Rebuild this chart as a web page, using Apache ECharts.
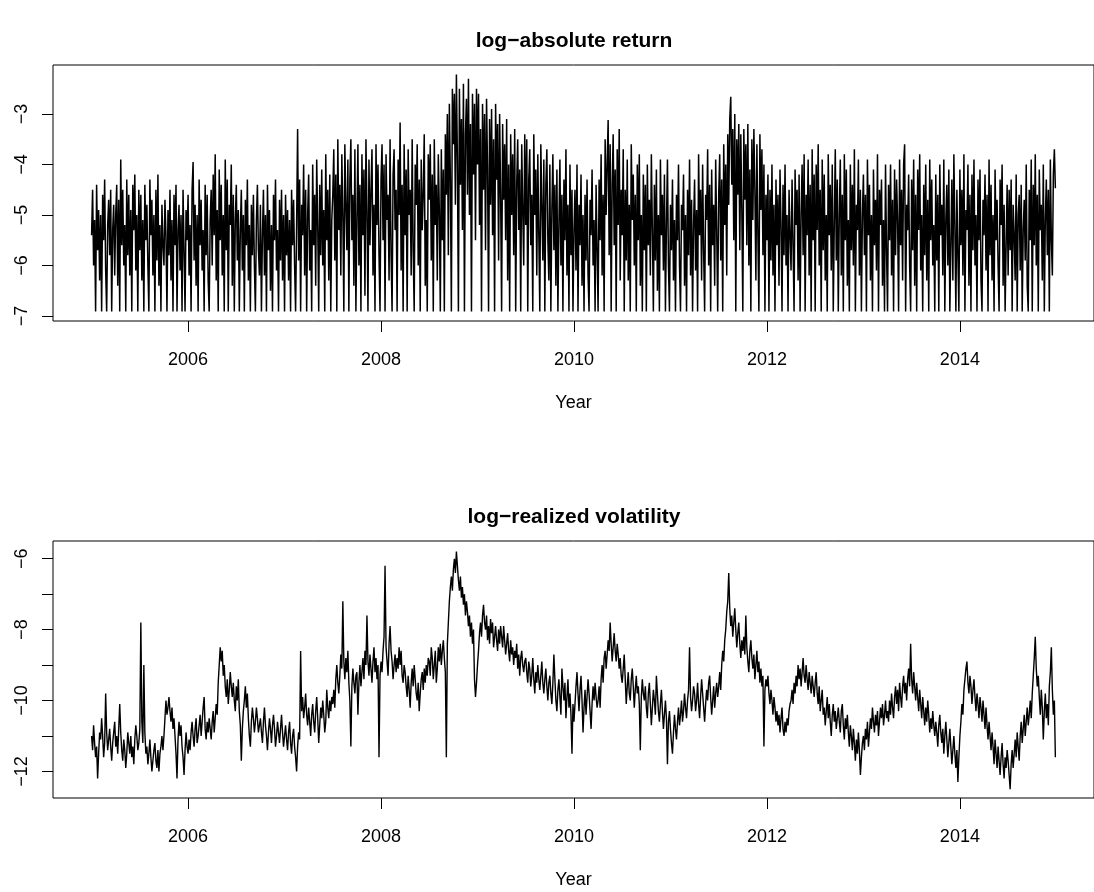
<!DOCTYPE html>
<html>
<head>
<meta charset="utf-8">
<title>log-absolute return / log-realized volatility</title>
<script src="https://cdn.jsdelivr.net/npm/echarts@6/dist/echarts.min.js"></script>
<style>
  html, body { margin: 0; padding: 0; background: #fff; }
  #main { width: 1094px; height: 892px; }
</style>
</head>
<body>
<div id="main"></div>
<script>
// both series read at 96 points a year, starting 2005.0
var startYear = 2005;
var freq = 96;

var yearTicks = [2006, 2008, 2010, 2012, 2014];
var absTicks = [-7, -6, -5, -4, -3];
var volTicks = [-12, -11, -10, -9, -8, -7, -6];
var volLabels = [-12, -10, -8, -6];

// log-absolute return, one line per quarter
var logAbsReturn = [
  -5.4,-4.5,-6.0,-5.1,-6.91,-4.4,-5.7,-4.9,-6.3,-5.0,-6.91,-4.6,-5.5,-4.3,-6.1,-6.91,-5.2,-4.7,-5.8,-4.5,-6.91,-5.3,-4.8,-6.2,
  -5.0,-4.4,-6.4,-4.7,-6.91,-3.9,-5.6,-4.5,-6.0,-5.2,-6.91,-4.3,-5.8,-4.6,-6.2,-4.9,-6.91,-4.4,-5.3,-4.2,-6.1,-5.0,-6.91,-4.5,
  -5.7,-4.6,-6.3,-5.1,-6.91,-4.4,-5.5,-4.8,-6.0,-6.91,-4.3,-5.4,-4.7,-6.2,-5.0,-6.91,-4.5,-5.9,-4.2,-6.4,-5.2,-6.91,-4.8,-5.6,
  -6.0,-4.7,-5.4,-6.91,-4.9,-5.8,-4.5,-6.3,-5.1,-6.91,-4.6,-5.6,-4.4,-6.91,-5.3,-4.8,-6.1,-5.0,-6.91,-4.5,-5.7,-6.91,-4.9,-5.5,
  // 2006
  -4.6,-6.2,-5.2,-6.91,-4.5,-3.95,-5.9,-4.8,-6.4,-5.0,-6.91,-4.3,-5.6,-4.7,-6.1,-5.3,-6.91,-4.4,-5.8,-4.6,-6.3,-6.91,-5.1,-4.5,
  -6.0,-4.2,-5.4,-3.8,-6.3,-4.9,-6.91,-4.1,-5.5,-4.4,-6.2,-5.0,-6.91,-3.9,-5.7,-4.3,-6.91,-4.8,-5.2,-4.0,-6.4,-4.6,-6.91,-5.1,
  -4.4,-5.9,-4.9,-6.91,-5.3,-4.5,-6.1,-5.0,-6.91,-4.7,-5.6,-4.3,-6.3,-5.2,-6.91,-4.8,-5.8,-4.6,-6.0,-6.91,-5.1,-4.4,-5.7,-6.2,
  -4.8,-6.91,-5.4,-4.5,-6.2,-5.0,-6.91,-4.4,-5.7,-4.9,-6.5,-5.2,-6.91,-4.6,-5.5,-4.3,-6.1,-5.3,-6.91,-4.7,-5.9,-4.5,-6.3,-5.0,
  // 2007
  -6.91,-4.6,-5.8,-4.9,-6.3,-5.1,-6.91,-4.5,-5.6,-4.7,-6.0,-6.91,-5.2,-3.3,-5.9,-4.3,-6.91,-4.8,-5.4,-4.0,-6.2,-4.5,-6.91,-5.0,
  -4.2,-6.1,-5.3,-6.91,-4.0,-5.6,-4.6,-6.4,-3.9,-5.2,-6.91,-4.4,-5.8,-4.1,-6.0,-4.9,-6.91,-3.8,-5.5,-4.5,-6.3,-4.2,-6.91,-5.1,
  -4.6,-3.7,-5.9,-4.2,-6.91,-3.5,-5.3,-4.4,-6.2,-3.8,-5.0,-6.91,-3.6,-4.8,-5.7,-3.9,-6.91,-4.3,-3.5,-5.5,-4.6,-6.4,-3.7,-6.91,
  -5.1,-3.6,-6.0,-4.4,-6.91,-3.8,-5.4,-4.1,-6.6,-3.5,-4.9,-6.91,-3.9,-5.6,-4.5,-3.7,-6.2,-4.8,-6.91,-3.6,-5.2,-4.0,-5.8,-6.91,
  // 2008
  -4.3,-3.6,-5.5,-4.0,-6.91,-3.8,-5.1,-4.6,-6.3,-3.5,-5.8,-6.91,-4.2,-3.7,-5.3,-4.5,-6.91,-3.9,-5.0,-3.17,-6.1,-4.4,-6.91,-3.6,
  -5.4,-4.1,-6.91,-3.7,-5.0,-4.5,-6.2,-3.5,-5.7,-6.91,-4.0,-4.8,-3.6,-6.0,-4.3,-6.91,-3.9,-5.3,-4.6,-3.4,-6.4,-5.1,-6.91,-3.8,
  -4.7,-3.6,-5.9,-4.2,-6.91,-3.5,-5.2,-4.4,-6.3,-3.8,-4.9,-6.91,-3.7,-5.5,-4.1,-6.91,-3.4,-4.6,-3.0,-5.8,-2.8,-4.3,-6.91,-2.5,
  -3.6,-2.6,-4.8,-2.22,-3.9,-6.91,-2.5,-4.4,-3.1,-5.3,-2.4,-6.91,-3.4,-2.7,-4.6,-2.3,-5.0,-3.2,-6.91,-2.6,-4.2,-2.8,-5.5,-2.5,
  // 2009
  -4.0,-2.6,-5.2,-3.3,-6.91,-2.8,-4.5,-3.0,-5.7,-2.7,-4.1,-6.91,-3.1,-4.8,-2.9,-5.4,-3.5,-6.91,-2.8,-4.3,-3.2,-5.9,-3.0,-4.6,
  -6.91,-3.2,-4.7,-3.6,-5.5,-3.1,-6.3,-4.0,-6.91,-3.4,-5.0,-3.8,-5.8,-3.3,-6.91,-4.4,-3.5,-5.3,-4.1,-6.91,-3.6,-4.9,-6.0,-3.4,
  -5.2,-3.5,-6.91,-4.3,-3.7,-5.6,-4.6,-6.91,-3.4,-5.0,-4.1,-6.2,-3.8,-5.4,-6.91,-3.6,-4.8,-5.9,-3.9,-6.91,-4.4,-3.7,-5.5,-6.3,
  -4.0,-6.91,-4.9,-3.8,-5.7,-4.4,-6.4,-4.1,-6.91,-5.2,-3.9,-6.0,-4.6,-6.91,-4.3,-5.5,-3.7,-6.2,-4.8,-6.91,-4.0,-5.8,-4.5,-6.91,
  // 2010
  -5.3,-4.5,-6.1,-4.0,-6.91,-4.8,-5.6,-4.2,-6.4,-5.0,-6.91,-4.6,-5.9,-4.3,-6.2,-6.91,-4.7,-5.4,-4.1,-6.0,-5.1,-6.91,-4.4,-5.7,
  -6.91,-4.3,-5.5,-3.8,-6.2,-4.6,-6.91,-3.5,-5.0,-4.0,-3.12,-5.8,-3.6,-6.91,-4.4,-3.4,-5.6,-4.1,-6.91,-3.7,-5.2,-3.3,-6.3,-4.5,
  -5.4,-3.7,-6.91,-4.5,-5.9,-3.9,-6.3,-4.8,-6.91,-3.6,-5.1,-4.2,-6.0,-4.6,-6.91,-4.0,-5.5,-3.8,-6.4,-5.0,-6.91,-4.2,-5.7,-4.4,
  -6.91,-4.0,-5.6,-4.7,-6.2,-3.8,-5.3,-6.91,-4.4,-5.9,-4.1,-6.5,-5.0,-6.91,-3.9,-5.4,-4.6,-6.1,-4.2,-6.91,-5.2,-3.9,-6.0,-6.91,
  // 2011
  -4.8,-5.7,-4.3,-6.3,-5.1,-6.91,-4.6,-5.5,-4.0,-6.0,-6.91,-4.8,-5.3,-4.2,-6.4,-5.0,-6.91,-4.5,-5.8,-3.9,-6.2,-4.7,-6.91,-5.2,
  -4.3,-6.1,-4.9,-6.91,-3.8,-5.4,-4.5,-6.3,-4.0,-5.7,-6.91,-4.6,-5.1,-3.7,-6.0,-4.4,-6.91,-4.1,-5.6,-4.8,-6.4,-3.9,-5.3,-6.91,
  -4.6,-3.8,-5.9,-4.3,-6.91,-3.6,-5.2,-4.0,-6.2,-3.4,-4.8,-3.1,-2.66,-4.4,-3.3,-5.5,-3.0,-6.91,-3.5,-4.6,-3.2,-5.7,-3.4,-4.9,
  -6.91,-3.3,-4.7,-3.6,-5.6,-3.2,-6.0,-4.1,-6.91,-3.5,-5.1,-3.3,-4.5,-6.3,-3.6,-5.4,-6.91,-3.4,-4.9,-3.7,-5.8,-4.0,-6.91,-4.6,
  // 2012
  -5.5,-4.2,-6.91,-4.5,-5.9,-4.0,-6.2,-4.8,-6.91,-4.3,-5.6,-4.6,-6.4,-4.1,-5.2,-6.91,-4.4,-5.8,-4.0,-6.0,-5.0,-6.91,-4.5,-5.4,
  -6.1,-4.3,-5.6,-6.91,-4.1,-5.2,-4.5,-6.3,-4.2,-6.91,-5.0,-4.0,-5.8,-3.8,-6.91,-4.6,-5.4,-3.9,-6.2,-4.4,-6.91,-3.7,-5.5,-4.2,
  -6.91,-4.0,-5.3,-3.6,-6.0,-4.5,-6.91,-3.9,-5.7,-4.2,-6.3,-5.0,-6.91,-3.8,-5.4,-4.4,-6.1,-4.0,-6.91,-5.2,-3.7,-5.9,-4.3,-6.91,
  -5.0,-3.9,-6.2,-4.6,-6.91,-3.8,-5.5,-4.1,-6.4,-5.1,-6.91,-4.0,-5.7,-4.4,-6.0,-3.7,-6.91,-4.8,-5.3,-3.9,-6.2,-4.5,-6.91,-5.0,
  // 2013
  -4.2,-5.8,-4.6,-6.91,-3.9,-5.4,-4.4,-6.3,-5.0,-6.91,-4.1,-5.6,-4.7,-6.1,-3.8,-6.91,-4.5,-5.2,-4.3,-6.4,-5.1,-6.91,-4.0,-5.7,
  -6.91,-4.4,-5.5,-4.0,-6.2,-4.7,-6.91,-4.1,-5.8,-4.3,-5.1,-6.91,-3.9,-5.6,-4.5,-6.3,-4.0,-3.6,-6.91,-4.8,-5.3,-4.2,-6.0,-6.91,
  -4.3,-5.7,-3.9,-6.4,-4.6,-6.91,-4.1,-5.3,-3.8,-6.1,-5.0,-6.91,-4.4,-5.8,-4.0,-6.3,-4.7,-6.91,-3.9,-5.5,-4.3,-6.0,-5.2,-6.91,
  -4.2,-5.9,-4.6,-6.91,-4.0,-5.4,-4.8,-6.2,-3.9,-6.91,-5.1,-4.4,-6.0,-4.1,-6.91,-5.6,-4.3,-6.3,-3.8,-5.2,-6.91,-4.5,-5.8,-6.91,
  // 2014
  -4.1,-5.6,-4.5,-6.2,-3.8,-6.91,-4.9,-5.3,-4.0,-6.4,-4.6,-6.91,-4.2,-5.7,-3.9,-6.0,-5.0,-6.91,-4.3,-5.5,-4.1,-6.3,-6.91,-4.7,
  -5.4,-4.2,-6.1,-4.6,-6.91,-3.9,-5.8,-4.4,-6.3,-5.0,-6.91,-4.1,-5.5,-4.7,-6.0,-6.91,-4.3,-5.2,-4.0,-6.4,-4.8,-6.91,-5.6,-4.4,
  -6.2,-4.5,-5.7,-4.3,-6.91,-4.8,-5.4,-6.3,-4.2,-6.91,-5.0,-4.6,-6.1,-4.4,-6.91,-5.3,-4.7,-5.9,-4.0,-6.4,-6.91,-4.5,-5.5,-3.9,
  -6.91,-4.4,-5.6,-3.8,-6.0,-4.6,-6.91,-4.1,-5.3,-4.8,-6.3,-4.0,-6.91,-5.1,-4.3,-5.8,-4.5,-6.91,-3.9,-5.5,-6.2,-4.2,-3.7,-4.47
];

// log-realized volatility, one line per quarter
var logRealVol = [
  -11.0,-11.4,-10.7,-11.2,-11.6,-11.3,-12.2,-11.5,-10.9,-11.1,-10.5,-11.0,-11.6,-11.2,-9.8,-10.9,-11.4,-11.1,-10.8,-11.3,-11.7,-11.2,-10.9,-10.6,
  -11.3,-11.0,-11.5,-10.8,-10.1,-10.9,-11.4,-11.7,-11.1,-11.4,-11.9,-11.5,-10.9,-11.2,-11.5,-11.0,-11.6,-11.3,-11.8,-11.1,-10.7,-11.0,-11.4,-11.2,
  -10.8,-7.8,-10.6,-11.2,-9.0,-10.9,-11.5,-11.3,-11.8,-11.5,-11.1,-11.6,-12.0,-11.7,-11.4,-11.2,-11.7,-11.9,-11.4,-12.0,-11.5,-11.3,-11.0,-11.4,
  -11.0,-10.5,-10.0,-10.4,-10.2,-9.9,-10.3,-10.6,-10.2,-10.8,-10.5,-11.0,-11.5,-12.2,-11.1,-10.6,-11.0,-10.7,-11.3,-11.6,-12.1,-11.4,-10.9,-11.3,
  // 2006
  -11.5,-11.1,-11.4,-10.9,-10.6,-11.0,-11.3,-10.8,-10.5,-11.2,-11.0,-10.7,-10.4,-11.0,-10.6,-10.2,-9.9,-10.8,-11.1,-10.6,-10.9,-10.5,-10.8,-11.1,
  -10.6,-10.3,-10.9,-10.5,-10.1,-10.4,-9.5,-9.0,-8.5,-8.9,-8.6,-9.3,-9.0,-9.6,-9.9,-9.4,-10.1,-9.7,-9.2,-9.6,-9.9,-9.5,-10.0,-10.3,
  -9.6,-10.0,-9.4,-10.3,-10.7,-11.7,-10.8,-10.3,-10.0,-9.6,-10.2,-9.8,-10.5,-11.0,-11.3,-10.6,-10.2,-10.5,-10.9,-10.6,-10.2,-10.5,-10.9,-10.7,
  -10.5,-10.9,-11.2,-10.6,-10.2,-10.7,-11.0,-11.4,-10.9,-10.5,-10.8,-11.2,-10.7,-10.4,-10.8,-11.3,-11.0,-10.6,-10.9,-11.2,-10.8,-10.4,-10.9,-11.3,
  // 2007
  -11.0,-10.7,-11.1,-11.4,-10.9,-10.6,-11.2,-11.5,-11.0,-10.8,-11.3,-11.6,-12.0,-11.3,-10.9,-11.1,-8.6,-10.3,-9.9,-10.5,-10.2,-9.8,-10.4,-10.7,
  -10.2,-10.6,-11.0,-10.4,-10.1,-10.6,-10.9,-10.3,-9.9,-10.5,-11.2,-10.7,-10.2,-10.5,-10.0,-10.4,-10.9,-10.6,-9.7,-10.2,-10.5,-10.0,-10.3,-9.9,
  -10.1,-9.7,-10.2,-9.4,-9.0,-9.5,-9.8,-9.3,-8.7,-9.1,-7.2,-8.9,-9.4,-8.8,-9.2,-8.6,-9.5,-10.0,-11.3,-9.6,-9.1,-9.5,-9.8,-9.3,
  -9.2,-10.4,-9.5,-9.0,-9.6,-9.2,-8.8,-9.4,-8.6,-9.0,-7.6,-8.9,-9.3,-8.7,-9.1,-9.5,-8.9,-8.5,-9.2,-8.8,-9.4,-9.0,-11.6,-9.3,
  // 2008
  -8.9,-9.2,-8.6,-8.2,-6.2,-8.5,-8.9,-9.3,-8.4,-7.9,-8.6,-8.9,-9.4,-9.0,-8.7,-9.2,-8.8,-9.1,-8.5,-9.0,-8.6,-9.3,-9.5,-9.0,
  -9.2,-9.6,-9.9,-9.3,-9.7,-10.2,-9.5,-9.1,-9.6,-9.0,-9.4,-9.8,-10.0,-9.5,-10.3,-9.8,-9.4,-9.2,-9.7,-9.1,-9.5,-9.0,-9.3,-8.8,
  -8.9,-9.3,-8.5,-8.8,-9.4,-9.0,-8.6,-9.5,-9.1,-8.5,-8.9,-8.4,-9.0,-8.6,-8.3,-8.8,-9.2,-11.6,-8.4,-7.8,-7.2,-6.8,-6.5,-6.9,
  -6.3,-6.0,-6.4,-5.8,-6.2,-6.6,-6.9,-6.5,-7.1,-6.8,-7.3,-7.0,-7.6,-7.2,-7.5,-7.9,-7.6,-8.2,-7.8,-8.4,-8.0,-9.4,-9.9,-9.5,
  // 2009
  -9.0,-8.6,-8.1,-7.8,-8.2,-7.6,-7.3,-7.8,-8.0,-7.6,-8.3,-7.9,-8.4,-7.7,-8.1,-7.8,-8.5,-8.2,-7.9,-8.3,-8.6,-8.0,-8.4,-7.9,
  -8.2,-8.5,-7.9,-8.3,-8.7,-8.4,-8.1,-8.6,-8.9,-8.3,-8.7,-8.5,-9.0,-8.6,-8.8,-8.4,-9.1,-8.7,-9.3,-8.8,-8.6,-9.0,-9.2,-8.9,
  -8.8,-9.2,-9.5,-8.9,-9.1,-9.6,-9.3,-8.8,-9.4,-9.8,-9.2,-9.5,-9.0,-9.4,-9.7,-9.3,-8.9,-9.5,-9.8,-9.4,-9.1,-9.6,-10.0,-9.5,
  -9.3,-9.8,-10.1,-9.5,-8.7,-9.4,-10.0,-10.3,-9.7,-9.4,-9.9,-10.4,-9.1,-9.6,-10.0,-9.5,-10.5,-9.9,-9.4,-10.2,-9.8,-10.4,-11.5,-10.1,
  // 2010
  -10.6,-10.1,-9.6,-9.2,-9.8,-10.3,-9.7,-9.3,-10.0,-10.9,-10.2,-9.7,-10.4,-9.9,-9.4,-9.8,-10.3,-10.8,-10.1,-9.6,-10.0,-9.5,-9.9,-10.2,
  -10.0,-9.6,-10.2,-9.4,-9.0,-9.5,-8.8,-8.6,-9.1,-8.7,-8.3,-8.6,-7.8,-8.4,-8.9,-8.5,-8.1,-8.6,-8.9,-8.4,-8.7,-9.1,-8.8,-9.3,
  -9.5,-9.1,-8.7,-9.4,-10.1,-9.6,-9.2,-9.8,-10.0,-9.4,-9.1,-9.6,-10.2,-9.7,-9.3,-9.8,-9.6,-10.1,-11.4,-9.9,-9.4,-9.8,-10.0,-9.6,
  -10.2,-10.5,-9.8,-9.5,-10.1,-10.7,-10.2,-9.7,-10.0,-10.4,-9.3,-9.8,-10.3,-10.6,-10.1,-9.7,-10.3,-10.8,-10.4,-10.0,-10.5,-11.8,-10.6,-10.3,
  // 2011
  -10.8,-11.2,-11.5,-10.9,-10.4,-10.8,-11.1,-10.6,-10.2,-10.7,-10.4,-10.0,-10.6,-10.3,-9.8,-10.2,-10.5,-10.0,-9.7,-8.5,-9.9,-10.3,-10.0,-9.6,
  -9.8,-10.3,-10.0,-9.5,-10.1,-10.5,-9.9,-9.4,-9.8,-10.2,-10.6,-10.1,-9.7,-10.0,-9.5,-9.3,-9.9,-10.4,-10.0,-9.6,-10.2,-9.8,-9.5,-9.9,
  -9.6,-9.2,-9.7,-9.0,-8.6,-8.9,-8.3,-8.0,-7.5,-7.2,-6.4,-7.4,-7.9,-7.6,-8.2,-7.8,-7.4,-8.0,-8.5,-8.1,-7.8,-8.4,-8.8,-8.3,
  -8.6,-8.2,-8.7,-7.6,-8.5,-8.9,-9.2,-8.6,-8.3,-8.8,-9.1,-8.7,-9.4,-9.0,-8.6,-9.2,-8.9,-9.5,-9.1,-9.6,-9.3,-11.3,-9.7,-9.4,
  // 2012
  -9.6,-9.3,-9.8,-10.1,-9.7,-10.0,-10.4,-9.9,-10.2,-10.6,-10.3,-10.7,-10.4,-10.9,-10.5,-10.2,-10.8,-11.0,-10.6,-10.9,-10.5,-10.7,-10.3,-10.1,
  -10.0,-9.7,-10.1,-9.5,-9.8,-9.3,-9.6,-9.0,-9.4,-9.1,-9.6,-9.2,-8.8,-9.3,-9.5,-9.0,-9.4,-9.7,-9.2,-9.5,-9.8,-9.3,-9.6,-9.9,
  -9.5,-9.2,-9.8,-10.1,-9.6,-10.3,-10.0,-9.7,-10.4,-10.2,-10.7,-10.3,-9.9,-10.5,-10.1,-10.6,-11.0,-10.4,-10.1,-10.6,-10.3,-10.8,-10.5,-10.2,
  -10.6,-10.9,-10.3,-10.1,-10.7,-11.1,-10.5,-10.8,-10.4,-10.9,-11.3,-10.7,-11.0,-11.4,-10.8,-11.2,-11.7,-11.1,-11.5,-10.9,-11.4,-12.1,-11.6,-11.2,
  // 2013
  -11.0,-11.4,-10.8,-11.1,-10.6,-11.3,-10.9,-10.5,-10.8,-10.2,-10.6,-10.9,-10.4,-10.7,-10.3,-11.0,-10.6,-10.2,-10.5,-10.1,-10.7,-10.4,-10.0,-10.5,
  -10.3,-10.6,-10.0,-10.4,-9.8,-10.2,-10.5,-9.9,-9.6,-10.1,-9.7,-10.3,-9.5,-9.9,-10.2,-9.6,-9.3,-9.8,-9.5,-10.0,-9.4,-9.1,-9.6,-8.4,
  -9.4,-9.8,-9.2,-9.6,-10.0,-9.5,-9.9,-10.3,-9.7,-10.1,-10.5,-9.9,-10.3,-10.7,-10.2,-10.6,-10.0,-10.4,-10.9,-10.5,-10.8,-10.3,-10.7,-11.0,
  -10.6,-10.9,-11.3,-10.7,-10.4,-10.9,-11.2,-10.8,-11.5,-11.0,-10.6,-11.1,-11.6,-11.2,-10.8,-11.3,-11.8,-11.4,-11.0,-11.5,-11.9,-11.4,-12.3,-11.6,
  // 2014
  -11.0,-10.6,-10.1,-10.4,-9.7,-9.4,-9.1,-8.9,-9.5,-9.8,-9.3,-9.6,-10.1,-9.7,-9.4,-9.9,-10.3,-9.8,-10.1,-10.5,-9.9,-10.2,-10.6,-10.0,
  -10.4,-10.8,-10.2,-10.7,-11.1,-10.6,-11.0,-11.4,-10.9,-11.3,-11.8,-11.1,-11.5,-11.9,-11.3,-11.7,-12.1,-11.6,-11.2,-11.8,-12.2,-11.6,-11.9,-11.4,
  -11.7,-12.1,-12.5,-11.8,-11.4,-11.9,-11.5,-11.1,-11.6,-10.9,-11.3,-11.7,-11.0,-10.6,-11.2,-10.8,-10.4,-11.0,-10.6,-10.2,-10.7,-10.4,-10.0,-10.5,
  -9.8,-9.3,-8.8,-8.2,-9.1,-9.6,-9.3,-9.9,-10.4,-9.7,-10.2,-11.1,-10.3,-9.8,-10.5,-10.1,-10.7,-9.6,-9.2,-8.5,-9.7,-10.4,-10.0,-11.6
];

var fontFam = '"Liberation Sans", Arial, Helvetica, sans-serif';

function toPairs(vals) {
  return vals.map(function (v, i) { return [startYear + i / freq, v]; });
}

function minusFmt(v) {
  return (v < 0 ? '\u2212' : '') + Math.abs(v);
}

function xAxisOpt(gridIndex) {
  return {
    gridIndex: gridIndex,
    type: 'value',
    min: 2004.6,
    max: 2015.39,
    axisLine: { show: false },
    axisTick: { show: true, length: 11, customValues: yearTicks, lineStyle: { color: '#000', width: 1 } },
    axisLabel: {
      customValues: yearTicks, color: '#000', fontSize: 18, fontFamily: fontFam, margin: 30,
      formatter: function (v) { return String(v); }
    },
    splitLine: { show: false },
    name: 'Year',
    nameLocation: 'middle',
    nameGap: 73,
    nameTextStyle: { color: '#000', fontSize: 18, fontFamily: fontFam }
  };
}

function yAxisOpt(gridIndex, min, max, ticks, labels) {
  return {
    gridIndex: gridIndex,
    type: 'value',
    min: min,
    max: max,
    axisLine: { show: false },
    axisTick: { show: true, length: 11, customValues: ticks, lineStyle: { color: '#000', width: 1 } },
    axisLabel: {
      customValues: labels, rotate: 90, color: '#000', fontSize: 18, fontFamily: fontFam, margin: 22,
      formatter: minusFmt
    },
    splitLine: { show: false }
  };
}

var chart = echarts.init(document.getElementById('main'), null, { renderer: 'canvas' });

var option = {
  animation: false,
  backgroundColor: '#fff',
  graphic: [
    {
      type: 'text', x: 574, y: 41,
      style: { text: 'log\u2212absolute return', font: 'bold 21px ' + fontFam, fill: '#000', align: 'center', verticalAlign: 'middle' }
    },
    {
      type: 'text', x: 574, y: 517,
      style: { text: 'log\u2212realized volatility', font: 'bold 21px ' + fontFam, fill: '#000', align: 'center', verticalAlign: 'middle' }
    }
  ],
  grid: [
    { left: 53, top: 65, width: 1042, height: 256, show: true, borderColor: '#000', borderWidth: 1 },
    { left: 53, top: 541, width: 1042, height: 257, show: true, borderColor: '#000', borderWidth: 1 }
  ],
  xAxis: [xAxisOpt(0), xAxisOpt(1)],
  yAxis: [
    yAxisOpt(0, -7.1, -2.03, absTicks, absTicks),
    yAxisOpt(1, -12.75, -5.5, volTicks, volLabels)
  ],
  series: [
    {
      type: 'line', xAxisIndex: 0, yAxisIndex: 0,
      data: toPairs(logAbsReturn),
      showSymbol: false, symbol: 'none',
      lineStyle: { color: '#000', width: 1.5 }
    },
    {
      type: 'line', xAxisIndex: 1, yAxisIndex: 1,
      data: toPairs(logRealVol),
      showSymbol: false, symbol: 'none',
      lineStyle: { color: '#000', width: 1.4 }
    }
  ]
};

chart.setOption(option);
</script>
</body>
</html>
